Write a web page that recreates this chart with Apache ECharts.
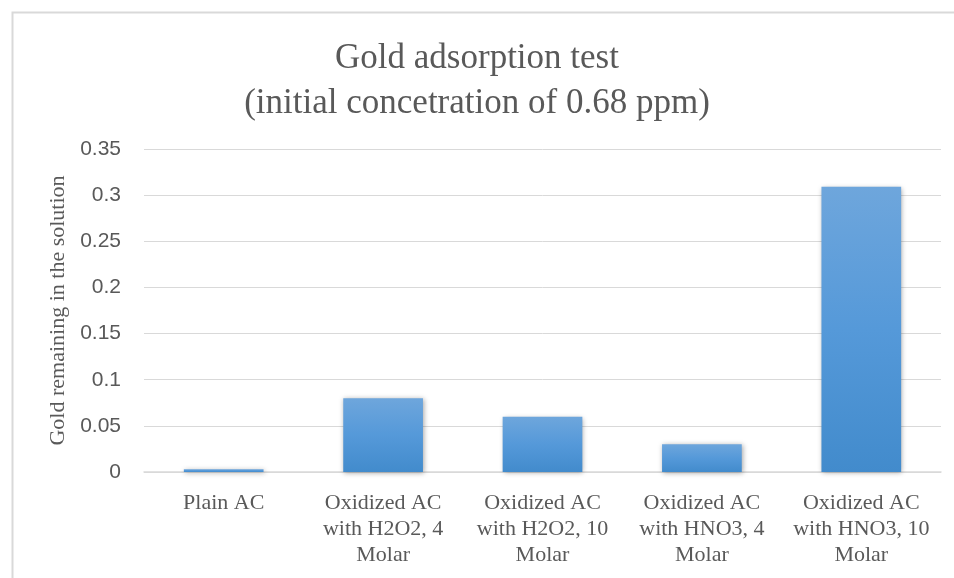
<!DOCTYPE html>
<html>
<head>
<meta charset="utf-8">
<script src="https://cdn.jsdelivr.net/npm/echarts@6/dist/echarts.min.js"></script>
<style>
  html, body { margin: 0; padding: 0; background: #fff; }
  #chart { width: 954px; height: 578px; }
</style>
</head>
<body>
<div id="chart"></div>
<script>
// Sample names along the x axis
const categories = [
  'Plain AC',
  'Oxidized AC\nwith H2O2, 4\nMolar',
  'Oxidized AC\nwith H2O2, 10\nMolar',
  'Oxidized AC\nwith HNO3, 4\nMolar',
  'Oxidized AC\nwith HNO3, 10\nMolar'
];
// Gold left in solution (ppm)
const goldRemaining = [0.003, 0.08, 0.06, 0.03, 0.309];
// Y-axis range
const yMin = 0;
const yMax = 0.35;
const yStep = 0.05;

const serif = '"Liberation Serif", "DejaVu Serif", serif';
const sans = '"Liberation Sans", "DejaVu Sans", sans-serif';
const textGrey = '#595959';

const chart = echarts.init(document.getElementById('chart'), null, { renderer: 'canvas' });
chart.setOption({
  animation: false,
  backgroundColor: '#ffffff',
  graphic: [{
    type: 'rect',
    left: 10, top: 10,
    shape: { width: 960, height: 600 },
    style: { fill: 'none', stroke: '#d9d9d9', lineWidth: 2 },
    z: -1
  }],
  title: {
    text: 'Gold adsorption test\n(initial concetration of 0.68 ppm)',
    left: 477,
    textAlign: 'center',
    top: 36,
    padding: 0,
    textStyle: {
      fontFamily: serif,
      fontWeight: 'normal',
      fontSize: 35,
      lineHeight: 45,
      color: textGrey
    }
  },
  grid: { left: 144, right: 13, top: 149, bottom: 106, containLabel: false },
  xAxis: {
    type: 'category',
    data: categories,
    axisTick: { show: false },
    axisLine: { lineStyle: { color: '#d9d9d9', width: 1.5 } },
    axisLabel: {
      interval: 0,
      margin: 18,
      fontFamily: serif,
      fontSize: 22,
      lineHeight: 26,
      color: textGrey
    }
  },
  yAxis: {
    type: 'value',
    min: yMin,
    max: yMax,
    interval: yStep,
    name: 'Gold remaining in the solution',
    nameLocation: 'middle',
    nameGap: 72,
    nameRotate: 90,
    nameTextStyle: { fontFamily: serif, fontSize: 22, color: textGrey },
    axisLine: { show: false },
    axisTick: { show: false },
    splitLine: { lineStyle: { color: '#d9d9d9', width: 1 } },
    axisLabel: {
      margin: 23,
      fontFamily: sans,
      fontSize: 21,
      color: textGrey,
      formatter: v => String(parseFloat(v.toFixed(2)))
    }
  },
  series: [{
    type: 'bar',
    data: goldRemaining,
    barWidth: '50%',
    itemStyle: {
      color: new echarts.graphic.LinearGradient(0, 0, 0, 1, [
        { offset: 0, color: '#6ea6dc' },
        { offset: 0.5, color: '#5599d9' },
        { offset: 1, color: '#428bcc' }
      ]),
      shadowColor: 'rgba(0,0,0,0.35)',
      shadowBlur: 5,
      shadowOffsetX: 1,
      shadowOffsetY: 1
    }
  }]
});
</script>
</body>
</html>
